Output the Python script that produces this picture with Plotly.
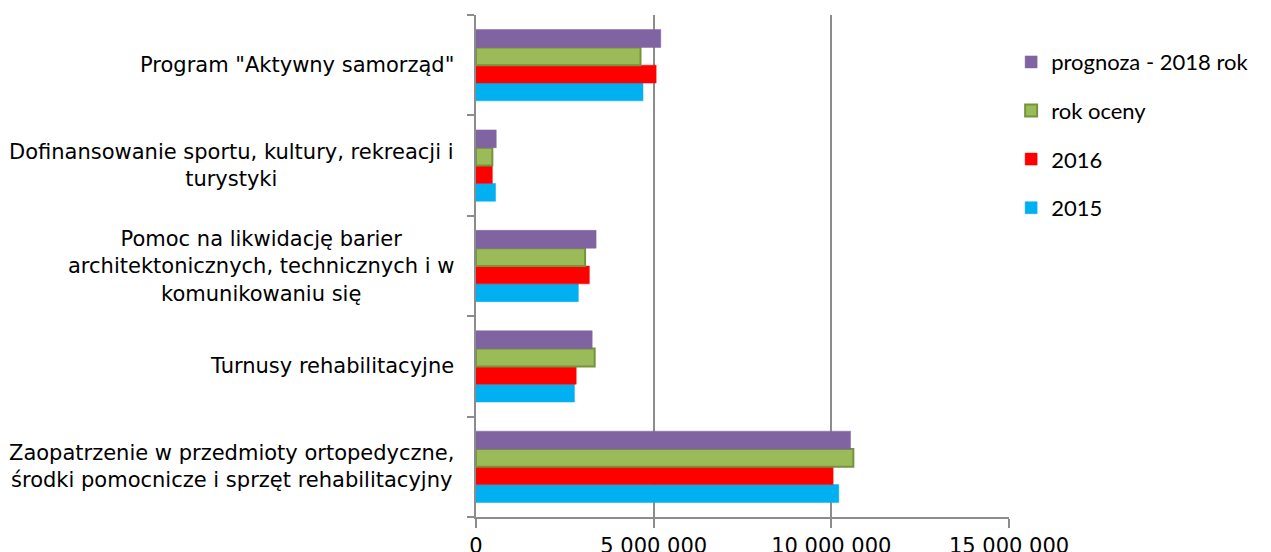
import plotly.graph_objects as go

categories = [
    "Zaopatrzenie w przedmioty ortopedyczne,<br>środki pomocnicze i sprzęt rehabilitacyjny",
    "Turnusy rehabilitacyjne",
    "Pomoc na likwidację barier<br>architektonicznych, technicznych i w<br>komunikowaniu się",
    "Dofinansowanie sportu, kultury, rekreacji i<br>turystyki",
    'Program "Aktywny samorząd"',
]

v_2015 = [10210000, 2770000, 2880000, 550000, 4700000]
v_2016 = [10050000, 2820000, 3190000, 460000, 5070000]
v_rok_oceny = [10620000, 3340000, 3070000, 460000, 4630000]
v_2018 = [10540000, 3270000, 3380000, 570000, 5200000]

tick_vals = [0, 5000000, 10000000, 15000000]
tick_text = ["0", "5 000 000", "10 000 000", "15 000 000"]

# name, values, fill, outline, legend rank (legend lists newest first)
series = [
    ("2015", v_2015, "#00B0F0", "#00B0F0", 4),
    ("2016", v_2016, "#FF0000", "#FF0000", 3),
    ("rok oceny", v_rok_oceny, "#9BBB59", "#77933C", 2),
    ("prognoza - 2018 rok", v_2018, "#8064A2", "#8064A2", 1),
]

GRID = "#8C8C8C"

fig = go.Figure()
for name, vals, col, line_col, rank in series:
    fig.add_trace(go.Bar(
        y=categories, x=vals, name=name, orientation="h",
        legendgroup=name, legendrank=rank,
        marker=dict(color=col, line=dict(color=line_col, width=2 if name == "rok oceny" else 0.5)),
    ))

# category labels as annotations so that multi-line text is centred
for cat in categories:
    fig.add_annotation(
        x=-0.0375, y=cat, xref="paper", yref="y", text=cat, showarrow=False,
        xanchor="right", align="center",
        font=dict(family="DejaVu Sans", size=21, color="#000000"),
    )

fig.update_layout(
    width=1271, height=552,
    margin=dict(l=476, r=262, t=15, b=35),
    plot_bgcolor="white", paper_bgcolor="white",
    barmode="group", bargap=0.29, bargroupgap=0,
    showlegend=True,
    legend=dict(
        traceorder="grouped", x=1.004, xanchor="left", y=0.948, yanchor="top",
        font=dict(family="Lato, Carlito, sans-serif", size=22, color="#000000"),
        tracegroupgap=17, itemwidth=30,
    ),
    xaxis=dict(
        range=[0, 15000000], tickvals=tick_vals, ticktext=tick_text,
        showgrid=True, gridcolor=GRID, gridwidth=2,
        showline=True, linecolor=GRID, linewidth=2, zeroline=False,
        ticks="outside", ticklen=9, tickcolor=GRID, tickwidth=2,
        tickfont=dict(family="DejaVu Sans", size=21, color="#000000"),
        automargin=False,
    ),
    yaxis=dict(
        type="category", showticklabels=False,
        showline=True, linecolor=GRID, linewidth=2,
        ticks="outside", tickson="boundaries", ticklen=7,
        tickcolor=GRID, tickwidth=2,
        showgrid=False, automargin=False,
    ),
)

fig.write_html("out.html", config={"displayModeBar": False},
               post_script="document.body.style.margin='0';")
